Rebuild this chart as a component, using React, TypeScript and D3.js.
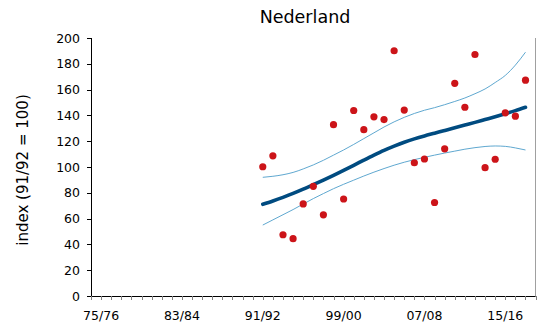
import React from "react";
import * as d3 from "d3";

// Season start years (1991 = 91/92 ... 2017 = 17/18)
const years = d3.range(1991, 2018);

// Observed index values per season (91/92 = 100)
const observed = [
  100.2, 108.7, 47.5, 44.4, 71.4, 85.0, 62.9, 132.8, 75.2, 143.8,
  128.9, 138.9, 136.8, 190.1, 144.1, 103.3, 106.2, 72.5, 114.1, 164.9,
  146.3, 187.2, 99.5, 106.0, 142.0, 139.4, 167.3,
];

// Smoothed trend and its confidence limits
const trend = [
  71.1, 73.7, 76.5, 79.5, 82.8, 86.3, 89.9, 93.6, 97.4, 101.3,
  105.3, 109.2, 112.9, 116.2, 119.2, 121.8, 124.1, 126.2, 128.3, 130.4,
  132.5, 134.6, 136.8, 139.0, 141.3, 143.7, 146.3,
];
const upper = [
  92.0, 92.8, 94.0, 95.8, 98.5, 101.6, 105.2, 109.2, 113.2, 117.5,
  122.0, 126.5, 131.0, 135.0, 138.5, 141.5, 144.0, 146.0, 148.3, 150.8,
  153.5, 156.8, 160.5, 165.5, 171.0, 179.0, 189.0,
];
const lower = [
  55.0, 59.0, 63.0, 67.0, 71.3, 75.5, 79.4, 83.2, 86.6, 89.8,
  93.0, 96.0, 98.8, 101.4, 103.7, 105.7, 107.5, 109.2, 110.8, 112.3,
  113.8, 115.0, 115.9, 116.3, 116.0, 114.8, 113.2,
];

const yTicks = d3.range(0, 201, 20);
const xLabelYears = [1975, 1983, 1991, 1999, 2007, 2015];
const xMinorYears = d3.range(1974, 2019);

const seasonLabel = (y: number) =>
  `${String(y % 100).padStart(2, "0")}/${String((y + 1) % 100).padStart(2, "0")}`;

const W = 537;
const H = 323;
const left = 91;
const right = 535.6;
const top = 38;
const bottom = 296;

const FONT = "'DejaVu Sans', Verdana, sans-serif";

export default function App() {
  const x = d3.scaleLinear().domain([1974, 2018]).range([left, right]);
  const y = d3.scaleLinear().domain([0, 200]).range([bottom, top]);

  const line = d3
    .line<number>()
    .x((_, i) => x(years[i]))
    .y((d) => y(d))
    .curve(d3.curveMonotoneX);

  return (
    <svg
      width={W}
      height={H}
      style={{ position: "absolute", left: 0, top: 0, background: "#fff" }}
    >
      {/* title */}
      <text
        x={305}
        y={22.5}
        textAnchor="middle"
        fontFamily={FONT}
        fontSize={17.5}
        fill="#000"
      >
        Nederland
      </text>

      {/* y-axis title */}
      <text
        transform={`translate(28,170) rotate(-90)`}
        textAnchor="middle"
        fontFamily={FONT}
        fontSize={15}
        fill="#000"
      >
        index (91/92 = 100)
      </text>

      {/* plot frame right edge */}
      <line x1={535.5} x2={535.5} y1={top} y2={bottom} stroke="#a0a0a0" strokeWidth={1} />

      {/* y axis */}
      <line x1={left + 0.5} x2={left + 0.5} y1={top} y2={bottom} stroke="#000" strokeWidth={1} />
      {yTicks.map((t) => (
        <g key={t}>
          <line
            x1={left - 4}
            x2={left}
            y1={Math.round(y(t)) + 0.5}
            y2={Math.round(y(t)) + 0.5}
            stroke="#000"
            strokeWidth={1}
          />
          <text
            x={80}
            y={y(t)}
            dy="0.36em"
            textAnchor="end"
            fontFamily={FONT}
            fontSize={12.5}
            fill="#000"
          >
            {t}
          </text>
        </g>
      ))}

      {/* x axis */}
      <line x1={left} x2={right} y1={bottom + 0.5} y2={bottom + 0.5} stroke="#000" strokeWidth={1} />
      {xMinorYears.map((yr) => (
        <line
          key={yr}
          x1={Math.round(x(yr)) + 0.5}
          x2={Math.round(x(yr)) + 0.5}
          y1={bottom}
          y2={bottom + 4}
          stroke="#808080"
          strokeWidth={1}
        />
      ))}
      {xLabelYears.map((yr) => (
        <text
          key={yr}
          x={x(yr)}
          y={319.5}
          textAnchor="middle"
          fontFamily={FONT}
          fontSize={12.5}
          fill="#000"
        >
          {seasonLabel(yr)}
        </text>
      ))}

      {/* confidence limits */}
      <path d={line(upper) ?? ""} fill="none" stroke="#5fa8d0" strokeWidth={1} />
      <path d={line(lower) ?? ""} fill="none" stroke="#5fa8d0" strokeWidth={1} />

      {/* trend */}
      <path
        d={line(trend) ?? ""}
        fill="none"
        stroke="#004b80"
        strokeWidth={3.6}
        strokeLinecap="round"
      />

      {/* observations */}
      {observed.map((v, i) => (
        <circle key={i} cx={x(years[i])} cy={y(v)} r={3.6} fill="#cc1419" />
      ))}
    </svg>
  );
}
